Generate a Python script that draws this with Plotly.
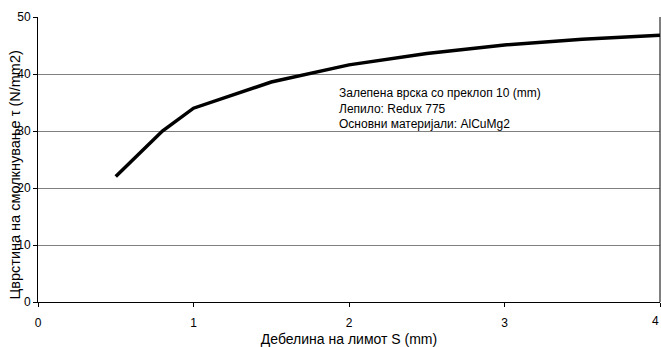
import plotly.graph_objects as go

# Lap joint shear strength vs. sheet thickness
thickness_mm = [0.5, 0.8, 1.0, 1.5, 2.0, 2.5, 3.0, 3.5, 4.0]
shear_strength = [22.0, 30.0, 34.0, 38.6, 41.6, 43.6, 45.1, 46.1, 46.8]

x_ticks = [0, 1, 2, 3, 4]
y_ticks = [0, 10, 20, 30, 40, 50]

note_lines = [
    "Залепена врска со преклоп 10 (mm)",
    "Лепило: Redux 775",
    "Основни материјали: AlCuMg2",
]

font_family = "Liberation Sans, Arial, sans-serif"

fig = go.Figure()
fig.add_trace(go.Scatter(
    x=thickness_mm, y=shear_strength, mode="lines",
    line=dict(color="black", width=3.5),
    showlegend=False, hoverinfo="skip",
))

fig.update_layout(
    width=661, height=347,
    margin=dict(l=38, r=1, t=17, b=45),
    paper_bgcolor="white", plot_bgcolor="white",
    font=dict(family=font_family, size=12, color="black"),
    xaxis=dict(
        range=[0, 4], tickvals=x_ticks, ticks="outside", ticklen=4,
        tickcolor="black", showline=True, linecolor="black", linewidth=1,
        mirror=False, showgrid=False, zeroline=False,
        ticklabelstandoff=6, tickfont=dict(size=12),
        title=dict(text="Дебелина на лимот S (mm)", standoff=4,
                   font=dict(size=14)),
    ),
    yaxis=dict(
        range=[0, 50], tickvals=y_ticks, ticks="outside", ticklen=4,
        tickcolor="black", showline=True, linecolor="black", linewidth=1,
        showgrid=True, gridcolor="#808080", gridwidth=1, zeroline=False,
        tickfont=dict(size=12),
    ),
    annotations=[
        dict(
            text="Цврстина на смолкнување τ (N/mm2)",
            textangle=-90, xref="paper", yref="paper",
            x=0, y=0.5, xanchor="center", yanchor="middle",
            xshift=-24, yshift=-16, showarrow=False, font=dict(size=14.5),
        ),
        dict(
            text="<br>".join(note_lines),
            xref="x", yref="y", x=1.925, y=38.3,
            xanchor="left", yanchor="top", align="left",
            showarrow=False, font=dict(size=12),
        ),
        # last tick label sits on the page edge
        dict(
            text="4", xref="x", yref="paper", x=4, y=0,
            xanchor="right", yanchor="top", yshift=-10, xshift=1,
            showarrow=False, font=dict(size=12),
        ),
    ],
    shapes=[
        dict(type="line", xref="paper", yref="paper", x0=1, x1=1, y0=0, y1=1,
             line=dict(color="black", width=1)),
    ],
)

fig.write_html("out.html")
